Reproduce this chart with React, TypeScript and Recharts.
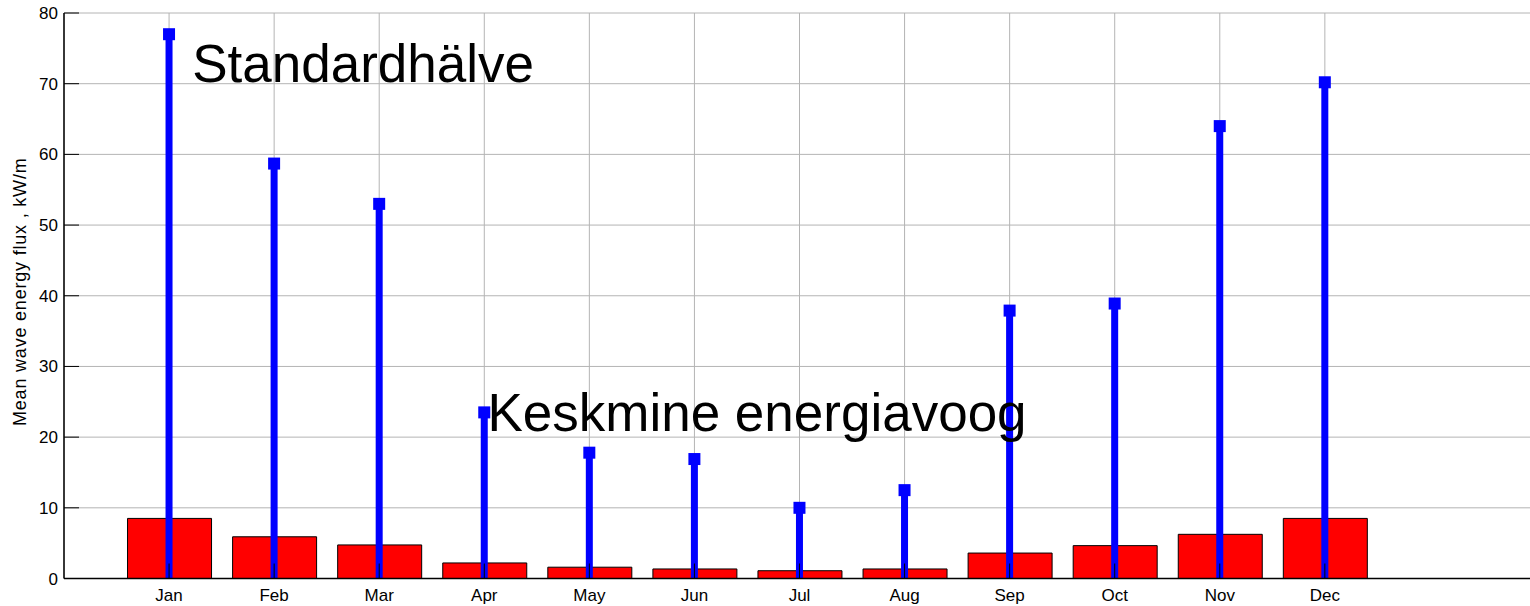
import React from 'react';
import { ComposedChart, Bar, XAxis, YAxis, CartesianGrid, ReferenceDot } from 'recharts';

const months = ['Jan', 'Feb', 'Mar', 'Apr', 'May', 'Jun', 'Jul', 'Aug', 'Sep', 'Oct', 'Nov', 'Dec'];
const meanFlux = [8.5, 5.9, 4.75, 2.2, 1.6, 1.35, 1.1, 1.35, 3.6, 4.65, 6.25, 8.5];
const stdHalf = [77.0, 58.7, 53.0, 23.5, 17.8, 16.9, 10.0, 12.5, 37.9, 38.9, 64.0, 70.2];
const yTicks = [0, 10, 20, 30, 40, 50, 60, 70, 80];
const xTicks = [1, 2, 3, 4, 5, 6, 7, 8, 9, 10, 11, 12];
const xDomain = [0, 14];
const yDomain = [0, 80];
const yLabel = 'Mean wave energy flux , kW/m';
const annotations = [
  { text: 'Standardhälve', x: 1.22, y: 70.3 },
  { text: 'Keskmine energiavoog', x: 4.03, y: 20.85 },
];

const data = months.map((m, i) => ({ x: i + 1, month: m, mean: meanFlux[i], std: stdHalf[i] }));

const FONT = 'Arial, "Liberation Sans", Helvetica, sans-serif';

const StemShape = (props: any) => {
  const { x, y, width, height } = props;
  const cx = x + width / 2;
  return (
    <g>
      <rect x={x} y={y} width={width} height={height} fill="#0000ff" />
      <rect x={cx - 6} y={y - 6} width={12} height={12} fill="#0000ff" />
    </g>
  );
};

const AnnotationLabel = (text: string) => (props: any) => {
  const vb = props.viewBox || {};
  const px = vb.cx !== undefined ? vb.cx : vb.x + (vb.width || 0) / 2;
  const py = vb.cy !== undefined ? vb.cy : vb.y + (vb.height || 0) / 2;
  return (
    <text x={px} y={py} fontSize={53} fontFamily={FONT} fill="#000" textAnchor="start">
      {text}
    </text>
  );
};

const YLabelContent = (props: any) => {
  const vb = props.viewBox;
  const cx = vb.x + 21;
  const cy = vb.y + vb.height / 2 - 4;
  return (
    <text
      x={cx}
      y={cy}
      transform={`rotate(-90, ${cx}, ${cy})`}
      textAnchor="middle"
      dominantBaseline="middle"
      fontSize={18}
      letterSpacing={0.8}
      fontFamily={FONT}
      fill="#000"
    >
      {yLabel}
    </text>
  );
};

export default function App() {
  return (
    <div style={{ position: 'absolute', left: 0, top: 0, width: 1530, height: 606, overflow: 'hidden', background: '#fff' }}>
      <ComposedChart
        width={1540}
        height={606}
        data={data}
        margin={{ top: 13, right: 5, bottom: 0, left: 0 }}
      >
        <CartesianGrid xAxisId="a" yAxisId="l" stroke="#b4b4b4" strokeWidth={1} />
        <XAxis
          xAxisId="a"
          dataKey="x"
          type="number"
          domain={xDomain}
          ticks={xTicks}
          interval={0}
          tickFormatter={(v: number) => months[v - 1] || ''}
          height={27.5}
          tickSize={-15}
          tickMargin={25}
          axisLine={{ stroke: '#000', strokeWidth: 1.5 }}
          tickLine={{ stroke: '#000' }}
          tick={{ fill: '#000', fontSize: 17, fontFamily: FONT }}
          allowDataOverflow
        />
        <XAxis xAxisId="b" dataKey="x" type="number" domain={xDomain} ticks={xTicks} hide allowDataOverflow />
        <XAxis
          xAxisId="top"
          orientation="top"
          dataKey="x"
          type="number"
          domain={xDomain}
          ticks={xTicks}
          interval={0}
          height={0}
          tickSize={-15}
          tickFormatter={() => ''}
          axisLine={{ stroke: '#000', strokeWidth: 1.5 }}
          tickLine={{ stroke: '#000' }}
          allowDataOverflow
        />
        <YAxis
          yAxisId="l"
          type="number"
          domain={yDomain}
          ticks={yTicks}
          interval={0}
          width={64}
          tickSize={-15}
          tickMargin={21}
          axisLine={{ stroke: '#000', strokeWidth: 1.5 }}
          tickLine={{ stroke: '#000' }}
          tick={{ fill: '#000', fontSize: 17, fontFamily: FONT }}
          label={{ content: YLabelContent }}
        />
        <YAxis
          yAxisId="r"
          orientation="right"
          type="number"
          domain={yDomain}
          ticks={yTicks}
          interval={0}
          width={0}
          tickSize={-15}
          tickFormatter={() => ''}
          axisLine={{ stroke: '#000', strokeWidth: 1.5 }}
          tickLine={{ stroke: '#000' }}
        />
        <Bar
          xAxisId="a"
          yAxisId="l"
          dataKey="mean"
          barSize={84}
          fill="#ff0000"
          stroke="#000"
          strokeWidth={1}
          isAnimationActive={false}
        />
        <Bar
          xAxisId="b"
          yAxisId="l"
          dataKey="std"
          barSize={7}
          fill="#0000ff"
          shape={StemShape}
          isAnimationActive={false}
        />
        {annotations.map((a) => (
          <ReferenceDot
            key={a.text}
            xAxisId="a"
            yAxisId="l"
            x={a.x}
            y={a.y}
            r={0}
            fill="none"
            stroke="none"
            ifOverflow="visible"
            label={{ content: AnnotationLabel(a.text) }}
          />
        ))}
      </ComposedChart>
    </div>
  );
}
